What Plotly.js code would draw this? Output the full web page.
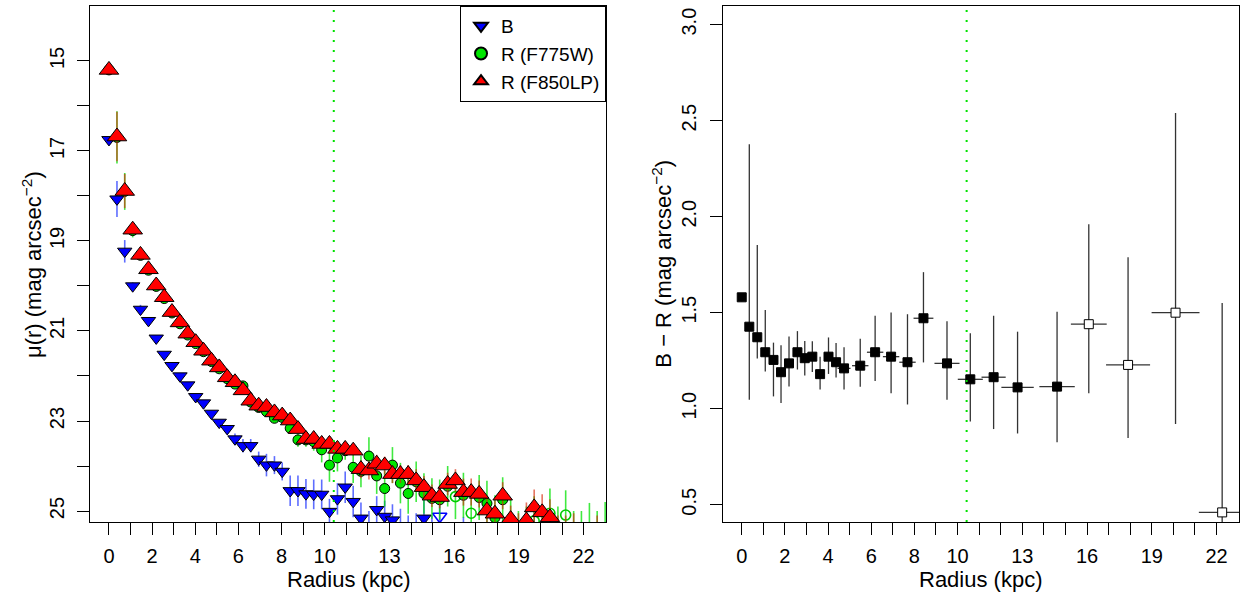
<!DOCTYPE html>
<html><head><meta charset="utf-8">
<script src="https://cdn.plot.ly/plotly-3.0.1.min.js"></script>
<style>html,body{margin:0;padding:0;background:#fff}#chart{width:1240px;height:602px}</style>
</head><body><div id="chart"></div>
<script>
// ---- surface brightness profiles (left panel) ----
const radius = [0.00,0.37,0.73,1.10,1.46,1.83,2.19,2.56,2.92,3.29,3.65,4.02,4.38,4.75,5.11,5.48,5.84,6.21,6.57,6.94,7.30,7.67,8.03,8.40,8.76,9.13,9.49,9.86,10.22,10.59,10.95,11.32,11.68,12.05,12.41,12.78,13.14,13.51,13.87,14.24,14.60,14.97,15.33,15.70,16.06,16.43,16.79,17.16,17.52,17.89,18.25,18.62,18.98,19.35,19.71,20.08,20.44,20.81,21.17,21.54,21.90,22.27,22.63,23.00];

const muB = [16.75,18.07,19.23,20.00,20.52,20.77,21.16,21.52,21.77,22.00,22.20,22.46,22.60,22.83,23.03,23.17,23.40,23.55,23.55,23.85,23.98,23.98,24.12,24.55,24.55,24.62,24.63,24.63,25.01,24.73,24.47,24.79,25.16,25.40,24.97,25.12,25.20,25.45,25.50,25.40,25.16,25.50,25.12,null,null,25.50,null,null,null,null,null,null,null,null,null,null,null,null,null,null,null,null,null,null];
const errB = [0.05,0.40,0.25,0.08,0.10,0.05,0.05,0.05,0.05,0.05,0.05,0.05,0.05,0.06,0.06,0.06,0.12,0.15,0.15,0.17,0.25,0.20,0.20,0.34,0.34,0.33,0.33,0.33,0.28,0.35,0.35,0.35,0.35,0.40,0.30,0.35,0.35,0.50,0.40,0.35,0.40,0.40,0.30,0,0,0.37,0,0,0,0,0,0,0,0,0,0,0,0,0,0,0,0,0,0];
const openB = [42];

const muR775 = [15.20,16.70,17.90,18.77,19.32,19.65,20.01,20.28,20.60,20.84,21.09,21.28,21.46,21.68,21.84,22.06,22.18,22.22,22.58,22.70,22.79,22.94,22.92,23.16,23.42,23.42,23.46,23.64,23.98,23.82,23.66,24.03,24.12,23.78,24.22,24.50,23.98,24.38,24.61,24.35,24.61,24.72,24.75,24.45,24.68,24.65,25.05,24.70,24.83,25.15,24.75,25.25,25.50,25.40,25.22,25.40,25.05,25.45,25.09,25.50,25.50,25.40,25.50,25.40];
const errR775 = [0.05,0.58,0.41,0.15,0.05,0.05,0.05,0.05,0.05,0.05,0.05,0.05,0.05,0.05,0.05,0.05,0.05,0.08,0.08,0.08,0.08,0.08,0.08,0.12,0.15,0.15,0.20,0.28,0.37,0.30,0.20,0.35,0.35,0.42,0.40,0.40,0.40,0.45,0.45,0.45,0.45,0.45,0.45,0.45,0.50,0.50,0.50,0.50,0.50,0.50,0.50,0.50,0.50,0.50,0.55,0.50,0.55,0.55,0.55,0.50,0.50,0.58,0.50,0.60];
const openR775 = [44,46,54,56,58];

const muR850 = [15.20,16.68,17.89,18.75,19.31,19.63,19.99,20.25,20.58,20.81,21.06,21.25,21.44,21.66,21.81,22.03,22.14,22.32,22.55,22.66,22.69,22.81,22.88,22.99,23.18,23.40,23.40,23.51,23.51,23.62,23.62,23.66,24.07,24.10,23.95,23.99,24.18,24.18,24.18,24.32,24.47,24.66,24.69,24.40,24.32,24.58,24.58,24.62,24.99,25.06,24.66,25.18,25.45,25.21,24.92,25.03,25.14,25.50,25.50,25.45,null,null,25.50,null];
const errR850 = [0.03,0.55,0.38,0.03,0.03,0.03,0.03,0.03,0.03,0.03,0.03,0.03,0.03,0.03,0.03,0.03,0.03,0.03,0.03,0.03,0.03,0.05,0.05,0.05,0.05,0.05,0.05,0.05,0.10,0.10,0.10,0.10,0.20,0.20,0.20,0.20,0.20,0.20,0.20,0.25,0.25,0.25,0.25,0.25,0.25,0.30,0.30,0.30,0.30,0.30,0.30,0.30,0.40,0.40,0.40,0.40,0.40,0.40,0.40,0.40,0.40,0.40,0.40,0.40];

// ---- colour profile (right panel) ----
const colorRadius = [0.00,0.35,0.72,1.09,1.47,1.82,2.19,2.58,2.92,3.27,3.63,4.02,4.37,4.74,5.49,6.18,6.92,7.68,8.42,9.51,10.59,11.67,12.78,14.61,16.08,17.90,20.10,22.26];
const colorRadiusErr = [0.18,0.18,0.18,0.18,0.18,0.18,0.18,0.18,0.18,0.18,0.18,0.18,0.18,0.30,0.38,0.38,0.38,0.38,0.46,0.58,0.58,0.56,0.75,0.82,0.83,1.02,1.11,1.08];
const colorBR = [1.58,1.427,1.372,1.294,1.254,1.19,1.236,1.294,1.263,1.271,1.18,1.271,1.242,1.21,1.224,1.294,1.271,1.242,1.471,1.236,1.153,1.164,1.111,1.115,1.44,1.228,1.50,0.46];
const colorErrUp = [0.02,0.95,0.48,0.22,0.09,0.14,0.14,0.11,0.09,0.08,0.09,0.10,0.10,0.11,0.14,0.19,0.23,0.25,0.24,0.22,0.24,0.32,0.29,0.39,0.52,0.56,1.04,1.09];
const colorErrDown = [0.02,0.38,0.11,0.10,0.19,0.16,0.12,0.09,0.09,0.08,0.08,0.09,0.08,0.11,0.11,0.15,0.19,0.22,0.23,0.19,0.22,0.27,0.24,0.29,0.36,0.38,0.58,0.50];
const openColor = [24,25,26,27];

// ---- axes ----
const xTickVals = [0,1,2,3,4,5,6,7,8,9,10,11,12,13,14,15,16,17,18,19,20,21,22];
const xTickText = ['0','','2','','4','','6','','8','','10','','','13','','','16','','','19','','','22'];
const yTickVals = [15,16,17,18,19,20,21,22,23,24,25];
const yTickText = ['15','','17','','19','','21','','23','','25'];
const y2TickVals = [0.5,1.0,1.5,2.0,2.5,3.0];
const y2TickText = ['0.5','1.0','1.5','2.0','2.5','3.0'];
const breakRadius = 10.42;

const FONT = 'Liberation Sans, Arial, Helvetica, sans-serif';
const TICK_SIZE = 20, TITLE_SIZE = 22, LEGEND_SIZE = 19;

function styleArrays(n, openIdx, fill, edgeFilled, edgeOpen) {
  const fc = [], lc = [], lw = [];
  for (let i = 0; i < n; i++) {
    const o = openIdx.includes(i);
    fc.push(o ? 'rgba(255,255,255,0)' : fill);
    lc.push(o ? edgeOpen : edgeFilled);
    lw.push(o ? 1.6 : 1);
  }
  return {fc, lc, lw};
}

const sB = styleArrays(radius.length, openB, '#0000FF', '#000', '#0000FF');
const sG = styleArrays(radius.length, openR775, '#00E600', '#000', '#00CC00');
const sR = styleArrays(radius.length, [], '#FF0000', '#000', '#FF0000');
const colorFill = colorRadius.map((r, i) => openColor.includes(i) ? '#fff' : '#000');

const traces = [
  {x: radius, y: muB, type: 'scatter', mode: 'markers', name: 'B', xaxis: 'x', yaxis: 'y', cliponaxis: true,
   marker: {symbol: 'triangle-down', size: 12.5, color: sB.fc, line: {color: sB.lc, width: sB.lw}},
   error_y: {type: 'data', array: errB, symmetric: true, color: 'rgba(40,60,255,0.75)', thickness: 1.6, width: 0}},
  {x: radius, y: muR775, type: 'scatter', mode: 'markers', name: 'R (F775W)', xaxis: 'x', yaxis: 'y', cliponaxis: true,
   marker: {symbol: 'circle', size: 10, color: sG.fc, line: {color: sG.lc, width: sG.lw}},
   error_y: {type: 'data', array: errR775, symmetric: true, color: 'rgba(0,225,0,0.75)', thickness: 1.6, width: 0}},
  {x: radius, y: muR850, type: 'scatter', mode: 'markers', name: 'R (F850LP)', xaxis: 'x', yaxis: 'y', cliponaxis: true,
   marker: {symbol: 'triangle-up', size: 17, color: sR.fc, line: {color: sR.lc, width: sR.lw}},
   error_y: {type: 'data', array: errR850, symmetric: true, color: 'rgba(215,40,10,0.65)', thickness: 1.6, width: 0}},
  {x: colorRadius, y: colorBR, type: 'scatter', mode: 'markers', name: 'B − R', xaxis: 'x2', yaxis: 'y2', showlegend: false, cliponaxis: true,
   marker: {symbol: 'square', size: 9, color: colorFill, line: {color: '#000', width: 1}},
   error_x: {type: 'data', array: colorRadiusErr, symmetric: true, color: '#333', thickness: 1.3, width: 0},
   error_y: {type: 'data', array: colorErrUp, arrayminus: colorErrDown, symmetric: false, color: '#333', thickness: 1.3, width: 0}}
];

const axisCommon = {showline: true, mirror: true, linecolor: '#000', linewidth: 1, ticks: 'outside', ticklen: 12,
  tickwidth: 1, tickcolor: '#000', showgrid: false, zeroline: false, fixedrange: true,
  tickfont: {family: FONT, size: TICK_SIZE, color: '#000'}};

const layout = {
  width: 1240, height: 602, margin: {l: 90, r: 1, t: 6, b: 80},
  paper_bgcolor: '#fff', plot_bgcolor: '#fff', showlegend: true,
  font: {family: FONT, size: TICK_SIZE, color: '#000'},
  xaxis: Object.assign({}, axisCommon, {domain: [0, 0.4491], range: [-0.88, 23.04], tickmode: 'array', tickvals: xTickVals, ticktext: xTickText, anchor: 'y', ticklabelstandoff: 4}),
  yaxis: Object.assign({}, axisCommon, {domain: [0, 1], range: [25.244, 13.78], tickmode: 'array', tickvals: yTickVals, ticktext: yTickText, tickangle: -90, anchor: 'x', ticklabelstandoff: 5}),
  xaxis2: Object.assign({}, axisCommon, {domain: [0.5507, 1], range: [-0.88, 23.04], tickmode: 'array', tickvals: xTickVals, ticktext: xTickText, anchor: 'y2', ticklabelstandoff: 4}),
  yaxis2: Object.assign({}, axisCommon, {domain: [0, 1], range: [0.41, 3.097], tickmode: 'array', tickvals: y2TickVals, ticktext: y2TickText, tickangle: -90, anchor: 'x2', ticklabelstandoff: 6}),
  legend: {x: 0.4491, xanchor: 'right', y: 1, yanchor: 'top', bordercolor: '#000', borderwidth: 1, bgcolor: '#fff',
    font: {family: FONT, size: LEGEND_SIZE, color: '#000'}, itemsizing: 'constant'},
  shapes: [
    {type: 'line', xref: 'x', yref: 'y domain', x0: breakRadius, x1: breakRadius, y0: 0, y1: 1, line: {color: '#00E000', width: 2, dash: '2px,8px'}},
    {type: 'line', xref: 'x2', yref: 'y2 domain', x0: breakRadius, x1: breakRadius, y0: 0, y1: 1, line: {color: '#00E000', width: 2, dash: '2px,8px'}}
  ],
  annotations: [
    {text: 'Radius (kpc)', xref: 'x domain', x: 0.5, yref: 'paper', y: -0.1105, yanchor: 'middle', showarrow: false, font: {family: FONT, size: TITLE_SIZE}},
    {text: 'Radius (kpc)', xref: 'x2 domain', x: 0.5, yref: 'paper', y: -0.1105, yanchor: 'middle', showarrow: false, font: {family: FONT, size: TITLE_SIZE}},
    {text: 'μ(r) (mag arcsec<sup>−2</sup>)', textangle: -90, xref: 'paper', x: -0.0505, xanchor: 'center', yref: 'paper', y: 0.5, yanchor: 'middle', showarrow: false, font: {family: FONT, size: TITLE_SIZE}},
    {text: 'B − R (mag arcsec<sup>−2</sup>)', textangle: -90, xref: 'paper', x: 0.4975, xanchor: 'center', yref: 'paper', y: 0.5, yanchor: 'middle', showarrow: false, font: {family: FONT, size: TITLE_SIZE}}
  ]
};

Plotly.newPlot('chart', traces, layout, {displayModeBar: false, staticPlot: true});
</script></body></html>
